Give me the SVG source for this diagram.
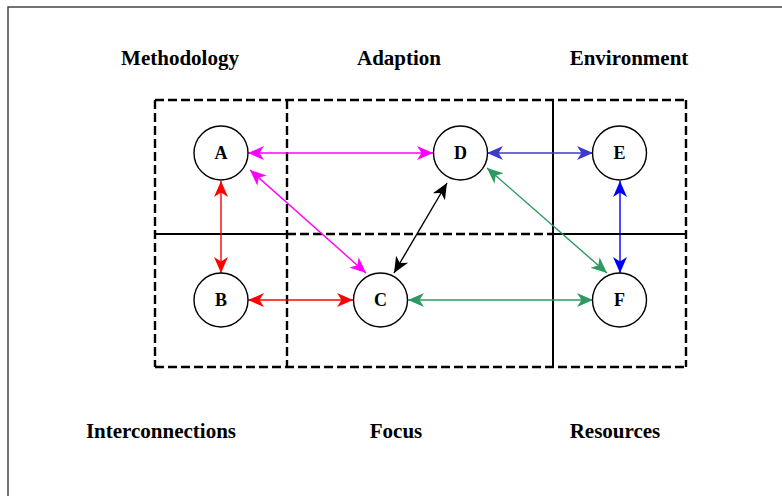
<svg xmlns="http://www.w3.org/2000/svg" width="782" height="496" viewBox="0 0 782 496">
<style>
.lbl{font-family:"Liberation Serif","Times New Roman",serif;font-weight:bold;font-size:21px;text-anchor:middle;fill:#000}
.nt{font-family:"Liberation Serif","Times New Roman",serif;font-weight:bold;font-size:18px;text-anchor:middle;fill:#000}
.node circle{fill:#fff;stroke:#000;stroke-width:1.4}
.dash{fill:none;stroke:#000;stroke-width:2.4;stroke-dasharray:9 4}
.solid{fill:none;stroke:#000;stroke-width:2}
.c{fill:none;stroke-width:1.4}
</style>
<defs>
<marker id="mMag" viewBox="0 -8 17 16" markerWidth="17" markerHeight="16" refX="16" refY="0" markerUnits="userSpaceOnUse" orient="auto-start-reverse"><path d="M0,-7 L16,0 L0,7 L4.5,0 Z" fill="#ff00ff"/></marker>
<marker id="mRed" viewBox="0 -8 17 16" markerWidth="17" markerHeight="16" refX="16" refY="0" markerUnits="userSpaceOnUse" orient="auto-start-reverse"><path d="M0,-7 L16,0 L0,7 L4.5,0 Z" fill="#ff0000"/></marker>
<marker id="mBlk" viewBox="0 -8 17 16" markerWidth="17" markerHeight="16" refX="16" refY="0" markerUnits="userSpaceOnUse" orient="auto-start-reverse"><path d="M0,-7 L16,0 L0,7 L4.5,0 Z" fill="#000"/></marker>
<marker id="mSlate" viewBox="0 -8 17 16" markerWidth="17" markerHeight="16" refX="16" refY="0" markerUnits="userSpaceOnUse" orient="auto-start-reverse"><path d="M0,-7 L16,0 L0,7 L4.5,0 Z" fill="#3a3acc"/></marker>
<marker id="mBlue" viewBox="0 -8 17 16" markerWidth="17" markerHeight="16" refX="16" refY="0" markerUnits="userSpaceOnUse" orient="auto-start-reverse"><path d="M0,-7 L16,0 L0,7 L4.5,0 Z" fill="#0000ff"/></marker>
<marker id="mGrn" viewBox="0 -8 17 16" markerWidth="17" markerHeight="16" refX="16" refY="0" markerUnits="userSpaceOnUse" orient="auto-start-reverse"><path d="M0,-7 L16,0 L0,7 L4.5,0 Z" fill="#2e9960"/></marker>
</defs>
<rect x="8" y="7" width="800" height="520" fill="#fff" stroke="#444" stroke-width="1.5"/>
<g id="regions">
<line class="dash" x1="155" y1="100" x2="686" y2="100"/>
<line class="dash" x1="155" y1="367" x2="686" y2="367"/>
<line class="dash" x1="155" y1="100" x2="155" y2="367"/>
<line class="dash" x1="686" y1="100" x2="686" y2="367"/>
<line class="dash" x1="287" y1="100" x2="287" y2="367"/>
<line class="solid" x1="155" y1="234" x2="287" y2="234"/>
<line class="dash" x1="287" y1="234" x2="553" y2="234"/>
<line class="solid" x1="553" y1="234" x2="686" y2="234"/>
<line class="solid" x1="553" y1="100" x2="553" y2="367"/>
</g>
<g id="labels">
<text class="lbl" x="180" y="65">Methodology</text>
<text class="lbl" x="399" y="65">Adaption</text>
<text class="lbl" x="629" y="65">Environment</text>
<text class="lbl" x="161" y="438">Interconnections</text>
<text class="lbl" x="396" y="438">Focus</text>
<text class="lbl" x="615" y="438">Resources</text>
</g>
<g id="connectors">
<line class="c" stroke="#ff00ff" x1="248" y1="153" x2="433" y2="153" marker-start="url(#mMag)" marker-end="url(#mMag)"/>
<line class="c" stroke="#ff00ff" x1="250" y1="170" x2="366" y2="273" marker-start="url(#mMag)" marker-end="url(#mMag)"/>
<line class="c" stroke="#000" x1="447" y1="183" x2="394" y2="273" marker-start="url(#mBlk)" marker-end="url(#mBlk)"/>
<line class="c" stroke="#3a3acc" x1="487" y1="153" x2="593" y2="153" marker-start="url(#mSlate)" marker-end="url(#mSlate)"/>
<line class="c" stroke="#2e9960" x1="487" y1="168" x2="607" y2="273" marker-start="url(#mGrn)" marker-end="url(#mGrn)"/>
<line class="c" stroke="#0000ff" x1="620" y1="181" x2="620" y2="273" marker-start="url(#mBlue)" marker-end="url(#mBlue)"/>
<line class="c" stroke="#ff0000" x1="221" y1="181" x2="221" y2="273" marker-start="url(#mRed)" marker-end="url(#mRed)"/>
<line class="c" stroke="#ff0000" x1="248" y1="300" x2="353" y2="300" marker-start="url(#mRed)" marker-end="url(#mRed)"/>
<line class="c" stroke="#2e9960" x1="408" y1="300" x2="593" y2="300" marker-start="url(#mGrn)" marker-end="url(#mGrn)"/>
</g>
<g id="A" class="node"><circle cx="221" cy="153" r="27"/><text class="nt" x="221" y="159">A</text></g>
<g id="B" class="node"><circle cx="221" cy="300" r="27"/><text class="nt" x="221" y="306">B</text></g>
<g id="C" class="node"><circle cx="380.5" cy="300" r="27"/><text class="nt" x="380.5" y="306">C</text></g>
<g id="D" class="node"><circle cx="460.5" cy="153" r="27"/><text class="nt" x="460.5" y="159">D</text></g>
<g id="E" class="node"><circle cx="619.5" cy="153" r="27"/><text class="nt" x="619.5" y="159">E</text></g>
<g id="F" class="node"><circle cx="619.5" cy="300" r="27"/><text class="nt" x="619.5" y="306">F</text></g>
</svg>
